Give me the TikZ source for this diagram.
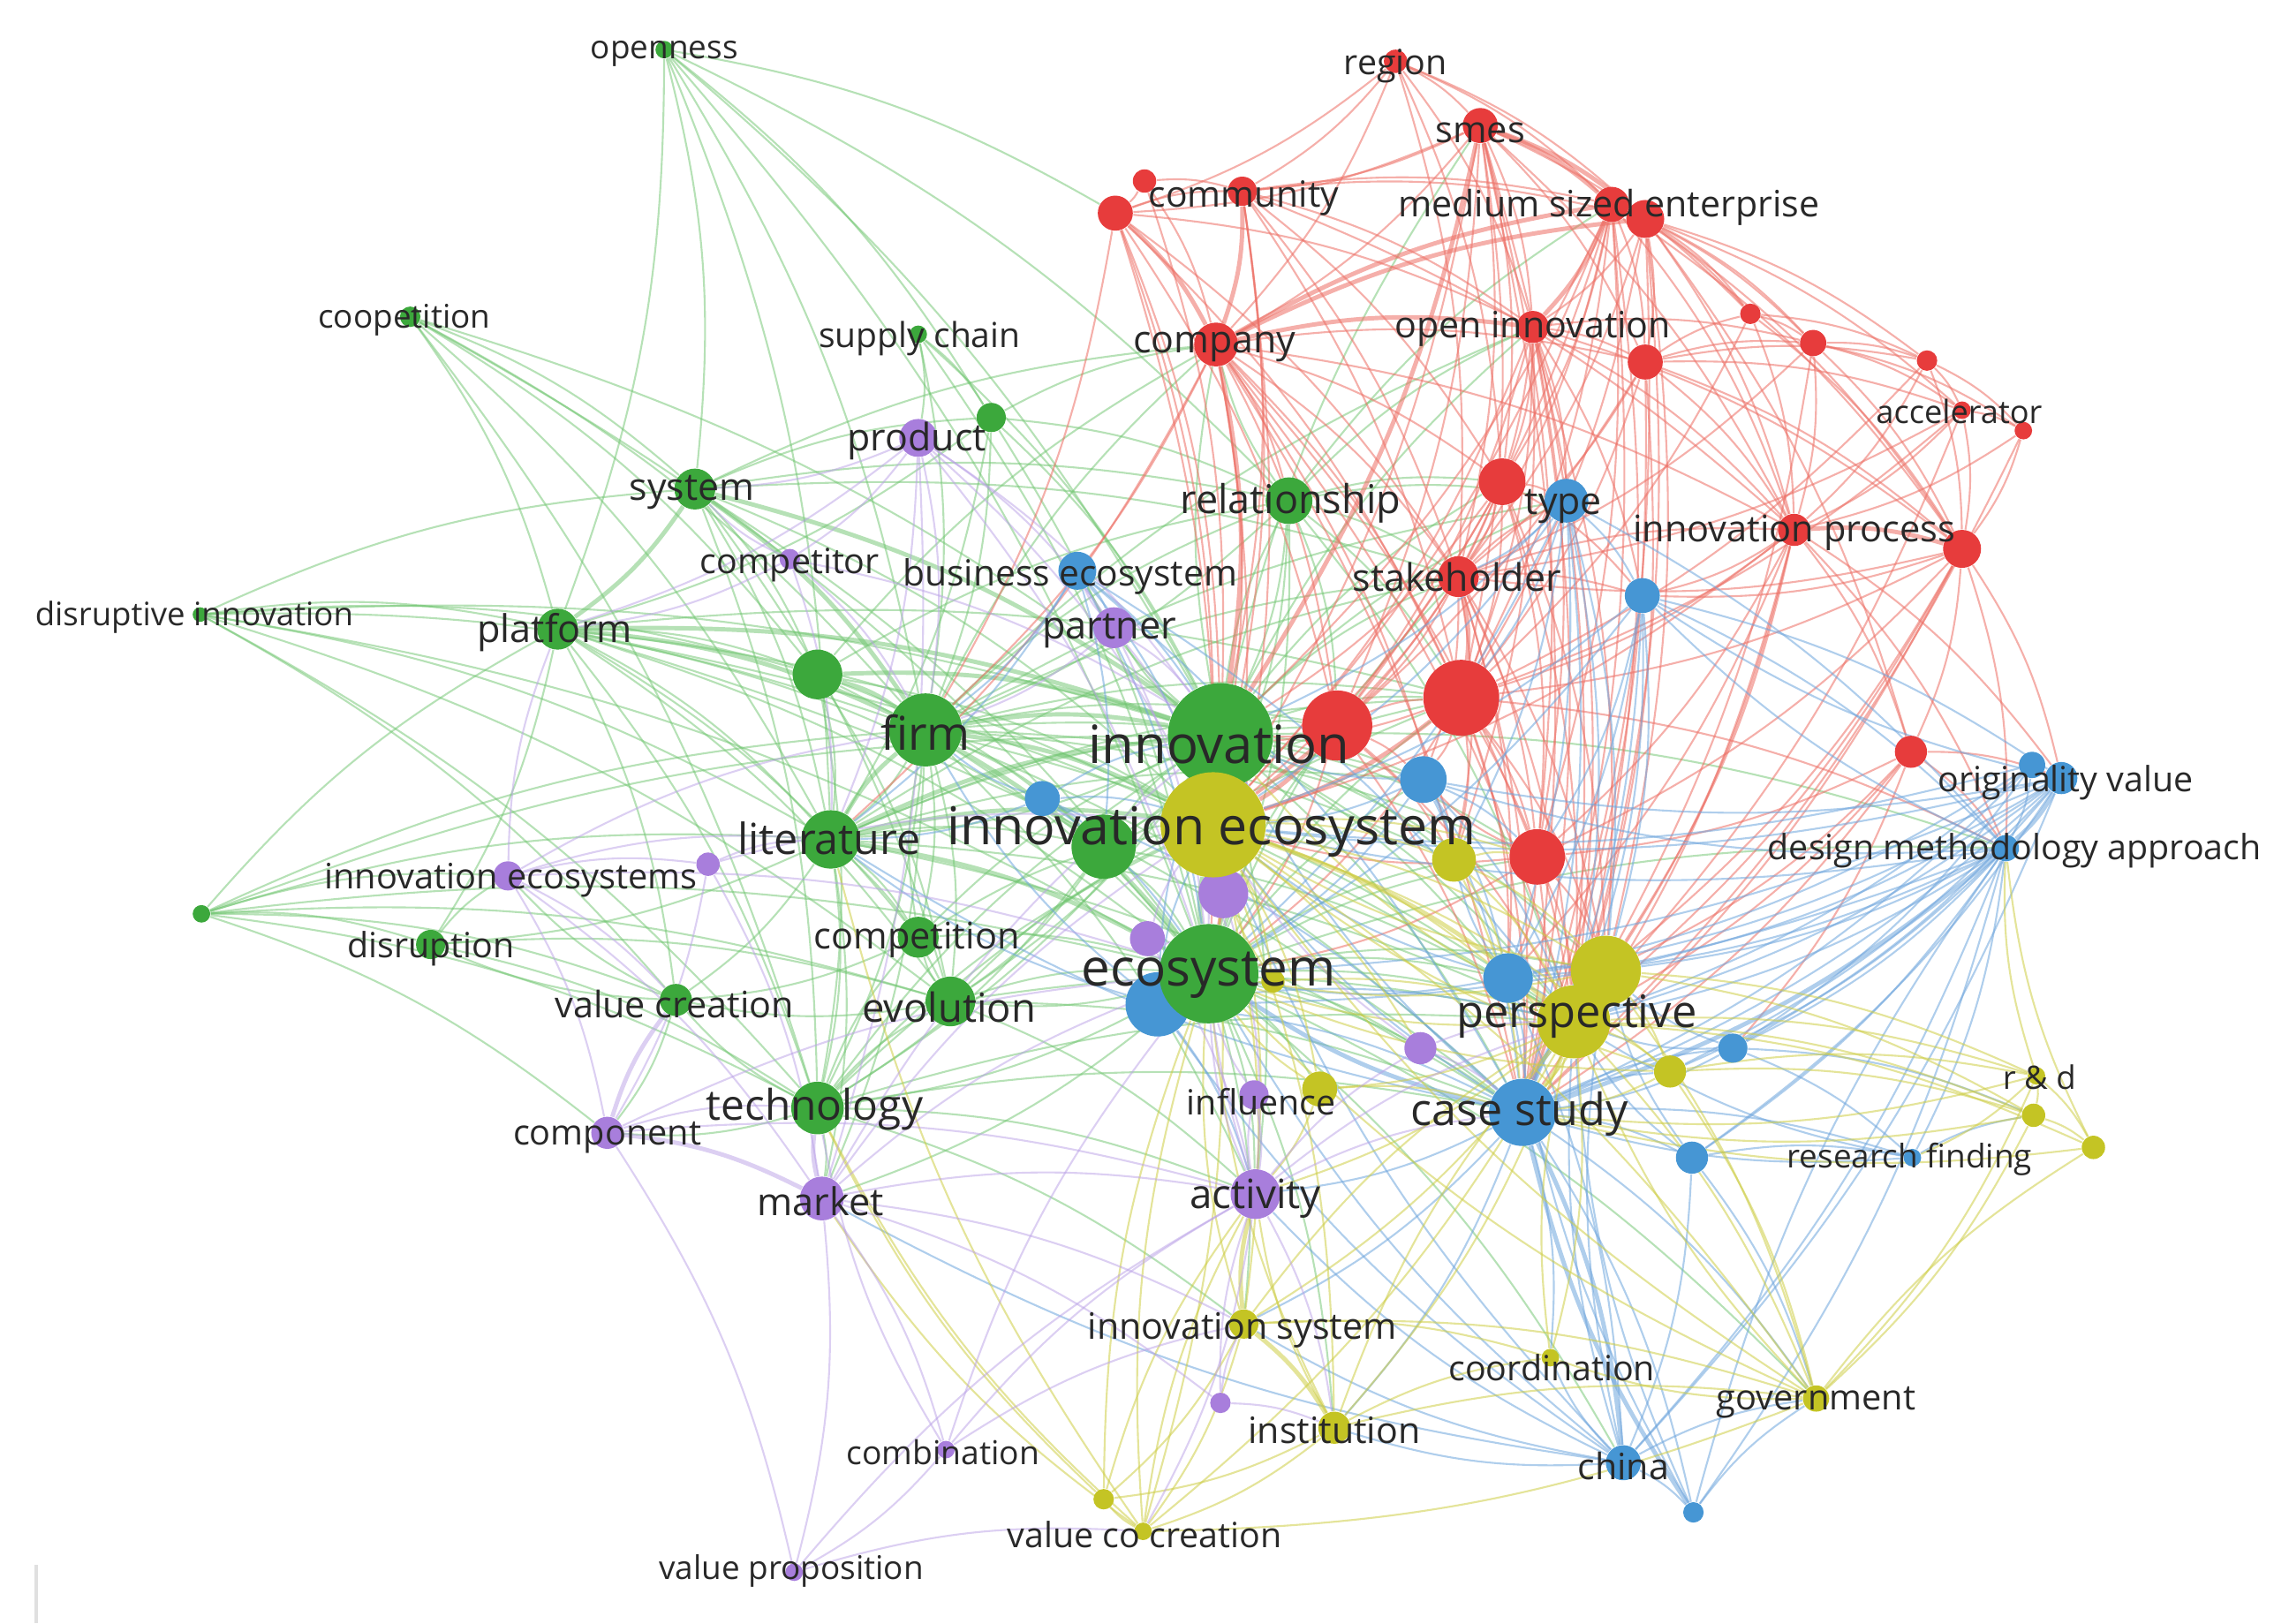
\documentclass[tikz,border=0pt]{standalone}
\usepackage{fontspec}
\setmainfont{Open Sans}
\pgfdeclarelayer{edges}
\pgfsetlayers{edges,main}
\definecolor{cR}{RGB}{231,60,60}
\definecolor{cG}{RGB}{60,168,60}
\definecolor{cB}{RGB}{70,150,212}
\definecolor{cY}{RGB}{196,196,36}
\definecolor{cP}{RGB}{168,126,220}
\definecolor{eR}{RGB}{236,110,100}
\definecolor{eG}{RGB}{110,196,110}
\definecolor{eB}{RGB}{110,165,220}
\definecolor{eY}{RGB}{205,205,70}
\definecolor{eP}{RGB}{185,160,230}
\definecolor{labc}{RGB}{40,40,40}
\tikzset{
  vnode/.style={circle, inner sep=0pt, draw=none},
  lab/.style={inner sep=0pt, text=labc, yshift=-1.4pt},
  edgeG/.style={draw=eG, line width=0.6pt, opacity=0.5},
  edgeR/.style={draw=eR, line width=0.6pt, opacity=0.55},
  edgeB/.style={draw=eB, line width=0.6pt, opacity=0.55},
  edgeY/.style={draw=eY, line width=0.6pt, opacity=0.55},
  edgeP/.style={draw=eP, line width=0.6pt, opacity=0.5},
  heavy/.style={line width=1.4pt},
}
\newcommand\vnd[5]{\node[vnode, fill=#2, minimum size=#3*0.033062cm] (#1) at (#4,#5) {};}
\newcommand\vlb[5]{\node[lab, font=\fontsize{#2}{#2}\selectfont] (l-#1) at (#3,#4) {#5};}
\begin{document}
\begin{tikzpicture}[x=0.016531cm, y=-0.016531cm]
\useasboundingbox (0,0) rectangle (1568,1112);
% ---------------- nodes ----------------
\vnd{p3}{cP}{17}{838}{612}
\vnd{p4}{cP}{12}{786}{643}
\vnd{b5}{cB}{22}{793}{688}
\vnd{prod}{cP}{13}{629}{300}
\vnd{cmp}{cP}{7}{541}{383}
\vnd{part}{cP}{14}{763}{430}
\vnd{ies}{cP}{10}{348}{600}
\vnd{p2}{cP}{8}{485}{592}
\vnd{p5}{cP}{11}{973}{718}
\vnd{compo}{cP}{11}{416}{776}
\vnd{mkt}{cP}{15}{563}{821}
\vnd{infp}{cP}{10}{859}{750}
\vnd{act}{cP}{17}{860}{818}
\vnd{p6}{cP}{7}{836}{961}
\vnd{combi}{cP}{6}{648}{993}
\vnd{vp}{cP}{6}{544}{1077}
% green
\vnd{open}{cG}{6}{455}{34}
\vnd{coop}{cG}{7}{281}{217}
\vnd{supc}{cG}{6}{629}{229}
\vnd{g1}{cG}{10}{679}{286}
\vnd{sys}{cG}{14}{476}{335}
\vnd{rel}{cG}{16}{883}{343}
\vnd{dis}{cG}{5}{137}{421}
\vnd{plat}{cG}{14}{382}{431}
\vnd{g2}{cG}{17}{560}{462}
\vnd{firm}{cG}{25}{634}{500}
\vnd{lit}{cG}{20}{569}{575}
\vnd{g3}{cG}{22}{756}{580}
\vnd{g4}{cG}{6}{138}{626}
\vnd{disr}{cG}{10}{295}{647}
\vnd{comp}{cG}{14}{629}{642}
\vnd{vc}{cG}{11}{463}{685}
\vnd{evo}{cG}{17}{651}{686}
\vnd{tech}{cG}{18}{560}{759}
\vnd{eco}{cG}{34}{828}{667}
\vnd{inn}{cG}{36}{836}{504}
% red
\vnd{reg}{cR}{8}{956}{42}
\vnd{smes}{cR}{12}{1014}{86}
\vnd{r1}{cR}{8}{784}{124}
\vnd{r2}{cR}{12}{764}{146}
\vnd{comm}{cR}{10}{851}{131}
\vnd{com}{cR}{15}{833}{236}
\vnd{mse1}{cR}{12}{1104}{140}
\vnd{mse2}{cR}{13}{1127}{150}
\vnd{oi}{cR}{11}{1050}{224}
\vnd{r3}{cR}{12}{1127}{248}
\vnd{r4}{cR}{7}{1199}{215}
\vnd{r5}{cR}{9}{1242}{235}
\vnd{r6}{cR}{7}{1320}{247}
\vnd{acc}{cR}{6}{1344}{281}
\vnd{r7}{cR}{6}{1386}{295}
\vnd{r8}{cR}{16}{1029}{330}
\vnd{stk}{cR}{14}{999}{395}
\vnd{ip}{cR}{11}{1229}{363}
\vnd{r9}{cR}{13}{1344}{376}
\vnd{r10}{cR}{24}{916}{497}
\vnd{r11}{cR}{26}{1001}{478}
\vnd{r12}{cR}{19}{1053}{587}
\vnd{r13}{cR}{11}{1309}{515}
% blue
\vnd{type}{cB}{15}{1073}{343}
\vnd{be}{cB}{13}{738}{391}
\vnd{b1}{cB}{12}{1125}{408}
\vnd{b2}{cB}{16}{975}{534}
\vnd{b3}{cB}{12}{714}{547}
\vnd{ov1}{cB}{9}{1392}{524}
\vnd{ov}{cB}{11}{1412}{533}
\vnd{dma}{cB}{9}{1374}{581}
\vnd{b4}{cB}{17}{1033}{670}
\vnd{cs}{cB}{23}{1043}{762}
\vnd{b6}{cB}{10}{1187}{718}
\vnd{b7}{cB}{11}{1159}{793}
\vnd{rf}{cB}{6}{1310}{793}
\vnd{china}{cB}{12}{1112}{1002}
\vnd{b8}{cB}{7}{1160}{1036}
% yellow
\vnd{y1}{cY}{15}{996}{589}
\vnd{y2}{cY}{24}{1100}{665}
\vnd{persp}{cY}{25}{1078}{700}
\vnd{y3}{cY}{11}{1144}{734}
\vnd{y7}{cY}{8}{872}{672}
\vnd{infy}{cY}{12}{904}{746}
\vnd{rd}{cY}{6}{1395}{737}
\vnd{y4}{cY}{8}{1393}{764}
\vnd{y5}{cY}{8}{1434}{786}
\vnd{coord}{cY}{6}{1062}{930}
\vnd{isys}{cY}{10}{852}{907}
\vnd{inst}{cY}{11}{914}{978}
\vnd{gov}{cY}{9}{1244}{958}
\vnd{y6}{cY}{7}{756}{1027}
\vnd{vcc}{cY}{6}{783}{1049}
\vnd{ie}{cY}{36}{831}{565}
% stray mark at the lower left
\draw[black!12, line width=1.2pt] (25,1072) -- (25,1112);
% ---------------- edges ----------------
\begin{pgfonlayer}{edges}
\foreach \a/\b in {open/sys, open/plat, open/firm, open/g1, open/inn, open/lit, open/r2, open/rel, open/eco,
 coop/sys, coop/plat, coop/firm, coop/inn, coop/g2, coop/lit, coop/eco, coop/tech,
 dis/plat, dis/sys, dis/firm, dis/inn, dis/lit, dis/eco, dis/tech, dis/vc, dis/g2, dis/evo,
 g4/ies, g4/disr, g4/vc, g4/lit, g4/firm, g4/inn, g4/compo, g4/eco, g4/tech, g4/plat, g4/evo,
 sys/lit, sys/g2, sys/eco, sys/tech, sys/rel, sys/g1, sys/com, sys/evo, sys/ie, sys/stk,
 plat/lit, plat/g2, plat/eco, plat/tech, plat/evo, plat/vc, plat/comp, plat/disr, plat/ie, plat/g3, plat/r11, plat/persp, plat/cs,
 g2/lit, g2/eco, g2/tech, g2/rel, g2/ie, g2/evo, g2/g3, g2/com,
 firm/lit, firm/tech, firm/evo, firm/comp, firm/rel, firm/g3, firm/stk, firm/persp, firm/cs, firm/act, firm/mkt, firm/r11, firm/com,
 firm/r10, firm/y1, firm/b2, firm/r12, firm/oi, firm/type,
 inn/lit, inn/tech, inn/evo, inn/g3, inn/rel, inn/com, inn/stk, inn/persp, inn/cs, inn/act, inn/oi, inn/smes, inn/r11, inn/dma,
 inn/r10, inn/y1, inn/b2, inn/b4, inn/r12, inn/y2, inn/r8, inn/type, inn/be, inn/part,
 lit/tech, lit/evo, lit/comp, lit/vc, lit/g3, lit/mkt, lit/disr, lit/persp, lit/cs, lit/r11, lit/r10, lit/stk, lit/b2,
 g3/eco, g3/ie, g3/tech, g3/evo, g3/persp, g3/r11, g3/inn,
 eco/tech, eco/evo, eco/persp, eco/cs, eco/act, eco/mkt, eco/isys, eco/inst, eco/china, eco/gov, eco/dma, eco/r11, eco/stk,
 eco/r10, eco/y1, eco/b2, eco/b4, eco/r12, eco/y2, eco/p5, eco/infy, eco/b5,
 tech/evo, tech/vc, tech/mkt, tech/act, tech/compo, tech/comp, tech/ie, tech/cs, tech/persp, tech/isys, tech/inn, tech/r11,
 evo/comp, evo/vc, evo/ie, evo/act, evo/persp, evo/cs, evo/eco, comp/vc, comp/ie, comp/eco, comp/inn, comp/firm,
 vc/disr, vc/ies, vc/compo, disr/ies, disr/tech, disr/evo,
 rel/com, rel/stk, rel/type, rel/ie, rel/eco, rel/r8, rel/persp, rel/inn, rel/firm, rel/r11, rel/r10, rel/oi, rel/mse1,
 g1/firm, g1/inn, g1/eco, g1/lit, g1/plat, g1/com, g1/rel,
 supc/g1, supc/inn, supc/eco, supc/firm, supc/prod}
 {\draw[edgeG] (\a) to[bend left=10] (\b);}
\foreach \a/\b in {sys/plat, plat/firm, firm/inn, inn/eco, firm/eco, lit/eco, sys/firm, sys/inn, plat/inn, g2/firm, g2/inn, lit/ie, inn/ie, eco/ie, firm/ie, lit/firm, lit/inn}
 {\draw[edgeG, heavy] (\a) to[bend left=10] (\b);}
\foreach \a/\b in {reg/smes, reg/comm, reg/r2, reg/mse1, reg/com, reg/oi, reg/stk, reg/mse2, reg/r8,
 smes/comm, smes/com, smes/oi, smes/r3, smes/stk, smes/r8, smes/r11, smes/r10, smes/ip, smes/r4, smes/r2, smes/persp,
 smes/cs, smes/ie, smes/r12,
 r1/comm, r1/com, r1/r2, r1/inn,
 r2/comm, r2/inn, r2/stk, r2/r10, r2/eco, r2/firm, r2/oi, r2/r11, r2/ie,
 comm/mse1, comm/oi, comm/r8, comm/stk, comm/inn, comm/r11, comm/mse2, comm/ip, comm/ie, comm/eco,
 com/r3, com/stk, com/r8, com/r10, com/r11, com/eco, com/ie, com/persp, com/rel, com/r12, com/ip, com/firm, com/lit, com/y1, com/cs,
 mse1/r3, mse1/r4, mse1/r5, mse1/r8, mse1/stk, mse1/ip, mse1/r9, mse1/r11, mse1/r12, mse1/ie, mse1/inn, mse1/r10, mse1/persp, mse1/cs,
 mse2/oi, mse2/r3, mse2/r4, mse2/r5, mse2/r6, mse2/stk, mse2/ip, mse2/r9, mse2/r11, mse2/r13, mse2/persp, mse2/acc, mse2/cs, mse2/y2,
 oi/r3, oi/r5, oi/r8, oi/stk, oi/ip, oi/r11, oi/r10, oi/r12, oi/ie, oi/persp, oi/cs, oi/r9, oi/type, oi/b1, oi/y2, oi/y1,
 r3/r4, r3/r5, r3/ip, r3/r9, r3/stk, r3/r11, r3/r6, r3/acc, r3/ie, r3/persp, r3/cs,
 r4/r5, r4/ip, r4/r9, r4/r6, r4/r11,
 r5/r6, r5/acc, r5/ip, r5/r9, r5/stk, r5/r7, r5/persp,
 r6/acc, r6/r9, r6/r7, r6/ip, r6/r11,
 acc/r7, acc/r9, acc/ip, acc/r11, acc/stk, acc/persp,
 r7/r9, r7/ip, r7/cs,
 r8/stk, r8/r11, r8/r10, r8/inn, r8/ie, r8/persp, r8/type, r8/b1, r8/r12, r8/y2,
 stk/r10, stk/r12, stk/ie, stk/persp, stk/cs, stk/ip, stk/b2, stk/type, stk/b1, stk/y1, stk/y2, stk/b4,
 ip/r13, ip/r11, ip/ov, ip/persp, ip/cs, ip/r12, ip/ie, ip/b1, ip/y2, ip/b4, ip/dma,
 r9/r13, r9/ov, r9/dma, r9/persp, r9/r11, r9/stk, r9/cs, r9/r12, r9/b1, r9/y2,
 r10/eco, r10/persp, r10/cs, r10/r11, r10/inn, r10/y1, r10/b2,
 r11/persp, r11/cs, r11/r12, r11/dma, r11/eco, r11/inn, r11/b2, r11/y1, r11/b4, r11/y2,
 r12/persp, r12/cs, r12/ie, r12/eco, r12/b4, r12/y2, r12/b2,
 r13/dma, r13/ov, r13/persp, r13/cs, r13/r12, r13/y2, r13/b6}
 {\draw[edgeR] (\a) to[bend left=10] (\b);}
\foreach \a/\b in {smes/mse1, smes/mse2, com/mse1, com/mse2, com/oi, com/inn, mse1/oi, smes/inn, stk/r11, r10/ie, r11/ie, ip/r9, comm/com, r2/com}
 {\draw[edgeR, heavy] (\a) to[bend left=10] (\b);}
\foreach \a/\b in {type/stk, type/b1, type/ie, type/inn, type/cs, type/persp, type/dma, type/eco, type/r11,
 type/y2, type/b4, type/y1,
 be/inn, be/ie, be/eco, be/firm, be/part, be/cs, be/persp, be/g3, be/lit,
 b1/dma, b1/ov, b1/cs, b1/persp, b1/ie, b1/eco, b1/y2, b1/b4, b1/r12,
 b2/ie, b2/inn, b2/cs, b2/persp, b2/eco, b2/y1, b2/r12, b2/b4,
 b3/ie, b3/lit, b3/firm, b3/eco, b3/cs, b3/inn, b3/g3,
 ov/cs, ov/persp, ov/ie, ov/b6, ov/b7, ov/b4, ov/eco, ov/china, ov/b1, ov/b2, ov/y2, ov/y3,
 ov1/dma, ov1/cs, ov1/persp, ov1/b4, ov1/ie, ov1/b6,
 dma/persp, dma/b4, dma/b6, dma/b7, dma/rf, dma/china, dma/b8, dma/ie, dma/b5, dma/b2, dma/b1, dma/y2, dma/y3,
 b4/cs, b4/persp, b4/ie, b4/eco, b4/china, b4/y2, b4/y1,
 b5/eco, b5/ie, b5/cs, b5/act, b5/persp, b5/inn, b5/firm, b5/lit,
 cs/ie, cs/b7, cs/b6, cs/coord, cs/act, cs/rf, cs/gov, cs/b8, cs/isys, cs/inst, cs/y2, cs/y3, cs/inn, cs/lit,
 b6/persp, b6/cs, b6/rf, b6/y4, b6/y2,
 b7/rf, b7/persp, b7/china, b7/gov, b7/y2,
 china/b8, china/coord, china/persp, china/eco, china/ie, china/act, china/isys, china/inst, china/gov, china/y2, china/mkt, china/b5,
 b8/persp, b8/gov, b8/dma, b8/b4,
 rf/cs, rf/persp, rf/y4}
 {\draw[edgeB] (\a) to[bend left=10] (\b);}
\foreach \a/\b in {ov/dma, dma/cs, cs/persp, cs/eco, cs/china, b8/cs}
 {\draw[edgeB, heavy] (\a) to[bend left=10] (\b);}
\foreach \a/\b in {ie/y1, ie/act, ie/isys, ie/inst, ie/infy, ie/y2, ie/gov, ie/y3, ie/vcc, ie/b4, ie/y7, ie/p5, ie/r12,
 y1/persp, y1/cs, y1/y2, y1/b4, y1/r12,
 persp/y2, persp/y3, persp/act, persp/isys, persp/inst, persp/gov, persp/rd, persp/y4, persp/y5, persp/coord, persp/vcc, persp/infy,
 persp/b4, persp/eco, persp/inn,
 y2/y3, y2/rd, y2/y4, y2/gov, y2/cs, y2/ie, y2/eco,
 y3/rd, y3/y4, y3/gov, y3/cs, y3/ie, y3/eco,
 rd/y4, rd/y5, rd/gov, rd/dma, rd/rf, rd/cs,
 y4/y5, y4/gov, y4/cs, y5/cs, y5/dma,
 isys/vcc, isys/y6, isys/coord, isys/gov, isys/eco, isys/persp,
 inst/vcc, inst/y6, inst/act, inst/coord, inst/gov, inst/persp, inst/eco,
 gov/vcc, gov/coord, gov/y5, gov/persp, gov/eco, gov/ie,
 vcc/y6, vcc/act, vcc/eco, vcc/mkt, vcc/tech, vcc/lit,
 coord/persp, y6/act, y6/eco, y6/tech,
 infy/act, infy/cs, infy/eco, y7/ie, y7/persp}
 {\draw[edgeY] (\a) to[bend left=10] (\b);}
\foreach \a/\b in {ie/persp, isys/inst, isys/act, persp/cs}
 {\draw[edgeY, heavy] (\a) to[bend left=10] (\b);}
\foreach \a/\b in {prod/firm, prod/inn, prod/eco, prod/sys, prod/plat, prod/lit, prod/part, prod/cmp, prod/mkt, prod/ie,
 cmp/plat, cmp/sys, cmp/firm, cmp/lit, cmp/inn,
 part/inn, part/ie, part/eco, part/firm, part/be,
 ies/p2, ies/lit, ies/plat, ies/vc, ies/compo, ies/mkt, ies/firm, ies/eco,
 p2/lit, p2/ie, p2/compo, p2/mkt,
 compo/tech, compo/act, compo/vp, compo/eco,
 mkt/act, mkt/combi, mkt/vp, mkt/eco, mkt/ie, mkt/inn, mkt/p6, mkt/isys,
 act/eco, act/ie, act/inst, act/persp, act/cs, act/infp, act/p5, act/vcc,
 combi/vp, combi/act, combi/tech, combi/eco, combi/isys,
 vp/vcc, vp/act,
 p3/ie, p3/eco, p3/inn, p3/act,
 p4/eco, p4/ie, p4/act,
 p5/persp, p5/ie, p5/cs,
 p6/act, p6/isys, p6/inst,
 infp/act, infp/eco}
 {\draw[edgeP] (\a) to[bend left=10] (\b);}
\foreach \a/\b in {compo/mkt, mkt/tech, compo/vc}
 {\draw[edgeP, heavy] (\a) to[bend left=10] (\b);}
\end{pgfonlayer}
% ---------------- labels ----------------
\vlb{open}{10.5}{455}{34}{openness}
\vlb{reg}{11.2}{956}{42}{region}
\vlb{smes}{11.8}{1014}{88}{smes}
\vlb{comm}{11.6}{852}{133}{community}
\vlb{mse}{11.7}{1102}{139}{medium sized enterprise}
\vlb{coop}{10.5}{277}{216}{coopetition}
\vlb{supc}{11.1}{630}{229}{supply chain}
\vlb{com}{12.2}{832}{235}{company}
\vlb{oi}{11.7}{1050}{222}{open innovation}
\vlb{acc}{10.3}{1342}{279}{accelerator}
\vlb{prod}{12.2}{628}{299}{product}
\vlb{sys}{12.2}{474}{334}{system}
\vlb{rel}{12.8}{884}{342}{relationship}
\vlb{type}{12.2}{1071}{344}{type}
\vlb{ip}{11.8}{1229}{362}{innovation process}
\vlb{cmp}{11.2}{541}{384}{competitor}
\vlb{be}{11.6}{733}{392}{business ecosystem}
\vlb{stk}{12.2}{998}{392}{stakeholder}
\vlb{dis}{10.4}{133}{420}{disruptive innovation}
\vlb{plat}{12.3}{380}{430}{platform}
\vlb{part}{12.3}{760}{429}{partner}
\vlb{firm}{15}{634}{499}{firm}
\vlb{inn}{17}{835}{507}{innovation}
\vlb{ov}{11.2}{1415}{533}{originality value}
\vlb{lit}{13.8}{568}{571}{literature}
\vlb{ie}{16.8}{830}{567}{innovation ecosystem}
\vlb{dma}{11.2}{1380}{580}{design methodology approach}
\vlb{ies}{11.3}{350}{600}{innovation ecosystems}
\vlb{disr}{11.2}{295}{647}{disruption}
\vlb{comp}{11.8}{628}{641}{competition}
\vlb{vc}{11.75}{462}{685}{value creation}
\vlb{evo}{12.9}{650}{687}{evolution}
\vlb{eco}{16.6}{828}{665}{ecosystem}
\vlb{persp}{14.4}{1080}{693}{perspective}
\vlb{rd}{10.4}{1397}{735}{r \& d}
\vlb{tech}{13.6}{558}{757}{technology}
\vlb{infl}{11.2}{864}{752}{influence}
\vlb{cs}{14.3}{1041}{760}{case study}
\vlb{compo}{11.3}{416}{776}{component}
\vlb{rf}{10.5}{1308}{791}{research finding}
\vlb{mkt}{12.3}{562}{820}{market}
\vlb{act}{13}{860}{818}{activity}
\vlb{isys}{11.7}{851}{908}{innovation system}
\vlb{coord}{11.2}{1063}{934}{coordination}
\vlb{gov}{11.3}{1244}{958}{government}
\vlb{inst}{11.7}{914}{977}{institution}
\vlb{china}{11.7}{1112}{1001}{china}
\vlb{combi}{10.6}{646}{992}{combination}
\vlb{vcc}{11.2}{784}{1048}{value co creation}
\vlb{vp}{10.5}{542}{1073}{value proposition}
\end{tikzpicture}
\end{document}
